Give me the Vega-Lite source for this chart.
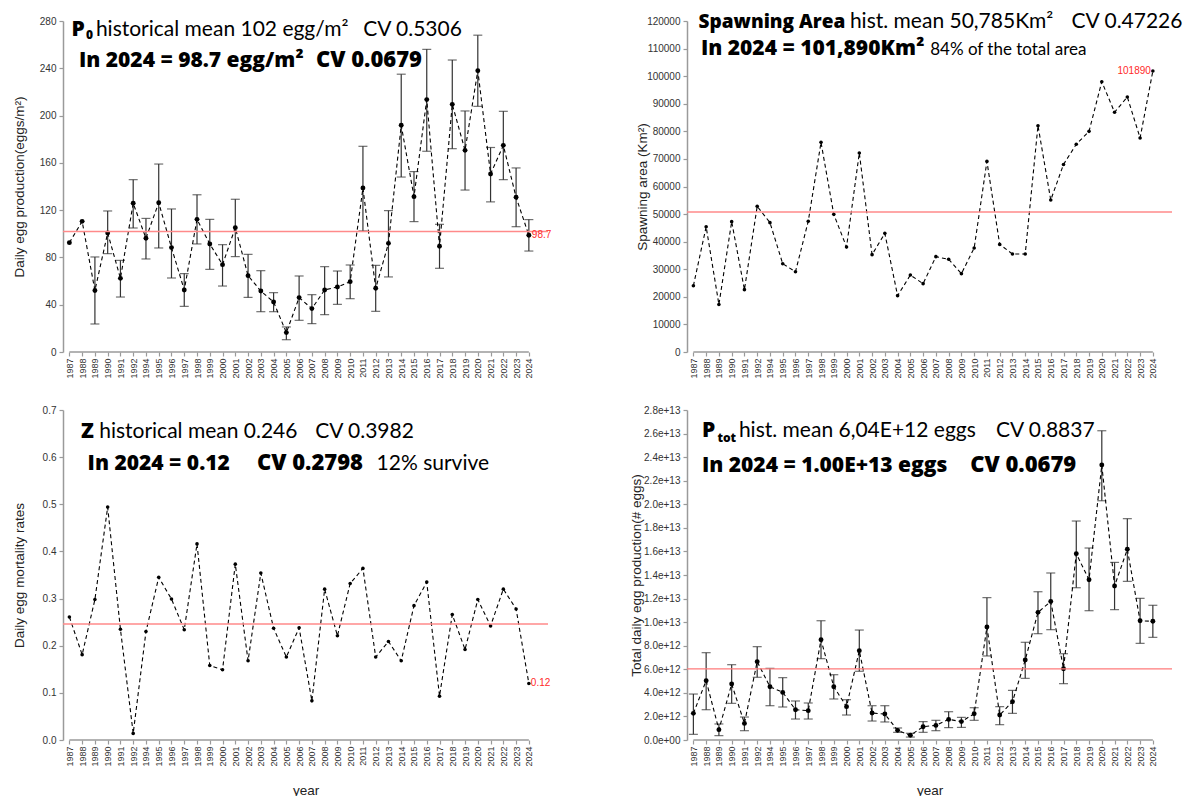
{
  "$schema": "https://vega.github.io/schema/vega-lite/v6.json",
  "padding": {"left": 12, "top": 10, "right": 5, "bottom": 5},
  "background": "white",
  "config": {
    "view": {"stroke": null},
    "font": "Lato",
    "axis": {"grid": false, "domainColor": "#9a9a9a", "tickColor": "#9a9a9a", "domainWidth": 1.5, "tickWidth": 1.2, "tickSize": 4, "labelFont": "Liberation Sans", "labelColor": "#333", "labelFontSize": 10, "titleFont": "Liberation Sans", "titleFontWeight": "normal", "titleColor": "#222", "titleFontSize": 13.5},
    "axisX": {"labelAngle": 270, "labelFontSize": 9, "domain": false, "labelPadding": 2, "labelOverlap": false, "labelFlush": false},
    "axisY": {"labelPadding": 3, "titleBaseline": "middle", "labelOverlap": false, "labelFlush": false}
  },
  "datasets": {
    "d": [
      {"year": 1987, "p0": 92.5, "p0lo": null, "p0hi": null, "area": 24000, "z": 0.261, "ptot": 2.26e12, "ptotlo": 0.48e12, "ptothi": 3.9e12},
      {"year": 1988, "p0": 110.5, "p0lo": null, "p0hi": null, "area": 45400, "z": 0.181, "ptot": 5.03e12, "ptotlo": 2.57e12, "ptothi": 7.41e12},
      {"year": 1989, "p0": 52, "p0lo": 23.7, "p0hi": 80.4, "area": 17200, "z": 0.298, "ptot": 0.88e12, "ptotlo": 0.37e12, "ptothi": 1.36e12},
      {"year": 1990, "p0": 100.7, "p0lo": 83.2, "p0hi": 119.3, "area": 47250, "z": 0.494, "ptot": 4.75e12, "ptotlo": 3.11e12, "ptothi": 6.39e12},
      {"year": 1991, "p0": 62.3, "p0lo": 46.5, "p0hi": 77.5, "area": 22600, "z": 0.235, "ptot": 1.41e12, "ptotlo": 0.79e12, "ptothi": 1.95e12},
      {"year": 1992, "p0": 125.8, "p0lo": 104.9, "p0hi": 145.8, "area": 52800, "z": 0.014, "ptot": 6.65e12, "ptotlo": 5.32e12, "ptothi": 7.92e12},
      {"year": 1994, "p0": 96.2, "p0lo": 78.7, "p0hi": 113, "area": 46900, "z": 0.23, "ptot": 4.52e12, "ptotlo": 2.91e12, "ptothi": 6.08e12},
      {"year": 1995, "p0": 126.3, "p0lo": 88, "p0hi": 159, "area": 32000, "z": 0.345, "ptot": 4.04e12, "ptotlo": 2.8e12, "ptothi": 5.29e12},
      {"year": 1996, "p0": 88.3, "p0lo": 62.6, "p0hi": 121, "area": 29100, "z": 0.299, "ptot": 2.57e12, "ptotlo": 1.78e12, "ptothi": 3.31e12},
      {"year": 1997, "p0": 52.5, "p0lo": 38.6, "p0hi": 66.3, "area": 47400, "z": 0.234, "ptot": 2.49e12, "ptotlo": 1.78e12, "ptothi": 3.14e12},
      {"year": 1998, "p0": 112.2, "p0lo": 91.4, "p0hi": 133, "area": 76000, "z": 0.416, "ptot": 8.51e12, "ptotlo": 6.9e12, "ptothi": 10.12e12},
      {"year": 1999, "p0": 91.4, "p0lo": 69.9, "p0hi": 112.2, "area": 49900, "z": 0.158, "ptot": 4.52e12, "ptotlo": 3.48e12, "ptothi": 5.54e12},
      {"year": 2000, "p0": 73.9, "p0lo": 55.8, "p0hi": 90.8, "area": 38070, "z": 0.149, "ptot": 2.83e12, "ptotlo": 2.12e12, "ptothi": 3.42e12},
      {"year": 2001, "p0": 105.2, "p0lo": 80.7, "p0hi": 129.2, "area": 72150, "z": 0.373, "ptot": 7.58e12, "ptotlo": 5.83e12, "ptothi": 9.33e12},
      {"year": 2002, "p0": 64.6, "p0lo": 46.2, "p0hi": 82.6, "area": 35290, "z": 0.168, "ptot": 2.29e12, "ptotlo": 1.61e12, "ptothi": 2.91e12},
      {"year": 2003, "p0": 51.6, "p0lo": 34.1, "p0hi": 68.8, "area": 43020, "z": 0.354, "ptot": 2.2e12, "ptotlo": 1.53e12, "ptothi": 2.91e12},
      {"year": 2004, "p0": 42.3, "p0lo": 34.1, "p0hi": 50.2, "area": 20420, "z": 0.237, "ptot": 0.82e12, "ptotlo": 0.65e12, "ptothi": 1.02e12},
      {"year": 2005, "p0": 16.4, "p0lo": 10.4, "p0hi": 21.2, "area": 27900, "z": 0.176, "ptot": 0.4e12, "ptotlo": 0.25e12, "ptothi": 0.57e12},
      {"year": 2006, "p0": 46, "p0lo": 26.8, "p0hi": 64.3, "area": 24770, "z": 0.238, "ptot": 1.13e12, "ptotlo": 0.65e12, "ptothi": 1.56e12},
      {"year": 2007, "p0": 36.7, "p0lo": 24, "p0hi": 48.5, "area": 34560, "z": 0.083, "ptot": 1.24e12, "ptotlo": 0.79e12, "ptothi": 1.67e12},
      {"year": 2008, "p0": 52.5, "p0lo": 31.6, "p0hi": 72.2, "area": 33600, "z": 0.32, "ptot": 1.75e12, "ptotlo": 1.05e12, "ptothi": 2.4e12},
      {"year": 2009, "p0": 55, "p0lo": 40.3, "p0hi": 68.5, "area": 28400, "z": 0.221, "ptot": 1.56e12, "ptotlo": 1.07e12, "ptothi": 1.92e12},
      {"year": 2010, "p0": 59.5, "p0lo": 45.1, "p0hi": 73.6, "area": 37700, "z": 0.332, "ptot": 2.23e12, "ptotlo": 1.67e12, "ptothi": 2.74e12},
      {"year": 2011, "p0": 138.7, "p0lo": 102.4, "p0hi": 174, "area": 69100, "z": 0.364, "ptot": 9.59e12, "ptotlo": 7.13e12, "ptothi": 12.08e12},
      {"year": 2012, "p0": 53.9, "p0lo": 34.4, "p0hi": 73.3, "area": 39000, "z": 0.176, "ptot": 2.12e12, "ptotlo": 1.3e12, "ptothi": 2.83e12},
      {"year": 2013, "p0": 91.9, "p0lo": 63.5, "p0hi": 119.6, "area": 35530, "z": 0.209, "ptot": 3.25e12, "ptotlo": 2.26e12, "ptothi": 4.21e12},
      {"year": 2014, "p0": 191.8, "p0lo": 148, "p0hi": 235, "area": 35530, "z": 0.168, "ptot": 6.79e12, "ptotlo": 5.23e12, "ptothi": 8.29e12},
      {"year": 2015, "p0": 131.4, "p0lo": 110.3, "p0hi": 152.6, "area": 82050, "z": 0.285, "ptot": 10.83e12, "ptotlo": 9.02e12, "ptothi": 12.58e12},
      {"year": 2016, "p0": 213.5, "p0lo": 169.8, "p0hi": 256, "area": 55100, "z": 0.335, "ptot": 11.76e12, "ptotlo": 9.36e12, "ptothi": 14.17e12},
      {"year": 2017, "p0": 89.4, "p0lo": 70.8, "p0hi": 108, "area": 68000, "z": 0.093, "ptot": 6.05e12, "ptotlo": 4.78e12, "ptothi": 7.32e12},
      {"year": 2018, "p0": 209.5, "p0lo": 172, "p0hi": 247, "area": 75300, "z": 0.266, "ptot": 15.81e12, "ptotlo": 12.92e12, "ptothi": 18.58e12},
      {"year": 2019, "p0": 170.6, "p0lo": 137, "p0hi": 203.9, "area": 80000, "z": 0.192, "ptot": 13.6e12, "ptotlo": 10.97e12, "ptothi": 16.29e12},
      {"year": 2020, "p0": 238, "p0lo": 207.8, "p0hi": 268, "area": 98000, "z": 0.298, "ptot": 23.33e12, "ptotlo": 20.3e12, "ptothi": 26.24e12},
      {"year": 2021, "p0": 150.6, "p0lo": 127, "p0hi": 173, "area": 86900, "z": 0.242, "ptot": 13.07e12, "ptotlo": 11.06e12, "ptothi": 15.07e12},
      {"year": 2022, "p0": 174.8, "p0lo": 145.8, "p0hi": 203.6, "area": 92450, "z": 0.32, "ptot": 16.18e12, "ptotlo": 13.46e12, "ptothi": 18.78e12},
      {"year": 2023, "p0": 130.9, "p0lo": 106, "p0hi": 155.7, "area": 77600, "z": 0.278, "ptot": 10.12e12, "ptotlo": 8.2e12, "ptothi": 12.02e12},
      {"year": 2024, "p0": 98.7, "p0lo": 85.4, "p0hi": 112, "area": 101890, "z": 0.12, "ptot": 10.07e12, "ptotlo": 8.71e12, "ptothi": 11.43e12}
    ]
  },
  "columns": 2,
  "spacing": {"row": 58, "column": 139},
  "bounds": "flush",
  "align": "all",
  "concat": [
    {
      "width": 485, "height": 331,
      "data": {"name": "d"},
      "layer": [
        {"transform": [{"filter": "isValid(datum.p0lo)"}],
         "mark": {"type": "rule", "color": "#333", "strokeWidth": 1.2},
         "encoding": {
           "x": {"field": "year", "type": "ordinal", "scale": {"type": "point", "padding": 1.02, "align": 0.25}, "axis": {"title": null}},
           "y": {"field": "p0lo", "type": "quantitative", "scale": {"domain": [0, 280], "nice": false}, "axis": {"title": "Daily egg production(eggs/m²)", "values": [0, 40, 80, 120, 160, 200, 240, 280], "tickCount": 40, "titleX": -44}},
           "y2": {"field": "p0hi"}}},
        {"transform": [{"filter": "isValid(datum.p0lo)"}],
         "mark": {"type": "tick", "color": "#333", "thickness": 1.2, "size": 9, "orient": "horizontal"},
         "encoding": {"x": {"field": "year", "type": "ordinal"}, "y": {"field": "p0lo", "type": "quantitative"}}},
        {"transform": [{"filter": "isValid(datum.p0hi)"}],
         "mark": {"type": "tick", "color": "#333", "thickness": 1.2, "size": 9, "orient": "horizontal"},
         "encoding": {"x": {"field": "year", "type": "ordinal"}, "y": {"field": "p0hi", "type": "quantitative"}}},
        {"mark": {"type": "line", "color": "#000", "strokeWidth": 1.1, "strokeDash": [4, 3]},
         "encoding": {"x": {"field": "year", "type": "ordinal"}, "y": {"field": "p0", "type": "quantitative"}}},
        {"mark": {"type": "point", "filled": true, "color": "#000", "size": 24, "opacity": 1},
         "encoding": {"x": {"field": "year", "type": "ordinal"}, "y": {"field": "p0", "type": "quantitative"}}},
        {"data": {"values": [{}]}, "mark": {"type": "rule", "color": "#ff8a8a", "strokeWidth": 1.5}, "encoding": {"y": {"datum": 102, "type": "quantitative"}}},
        {"transform": [{"filter": "datum.year == 2024"}],
         "mark": {"type": "text", "align": "left", "baseline": "middle", "dx": 3, "color": "#ff2a2a", "font": "Liberation Sans", "fontSize": 10},
         "encoding": {"x": {"field": "year", "type": "ordinal"}, "y": {"field": "p0", "type": "quantitative"}, "text": {"field": "p0", "format": ".1f"}}},
        {"data": {"values": [{}]}, "mark": {"type": "rule", "color": "#9a9a9a", "strokeWidth": 1.5}, "encoding": {"x": {"datum": 1987, "type": "ordinal"}, "x2": {"datum": 2024}, "y": {"datum": 0, "type": "quantitative"}}},
        {"data": {"values": [{}]}, "mark": {"type": "text", "text": "P", "align": "left", "baseline": "alphabetic", "dx": 2.2, "font": "Open Sans", "fontSize": 21, "fontWeight": 800, "color": "#000"}, "encoding": {"x": {"datum": 1987, "type": "ordinal"}, "y": {"datum": 267.7, "type": "quantitative"}}},
        {"data": {"values": [{}]}, "mark": {"type": "text", "text": "0", "align": "left", "baseline": "alphabetic", "dx": 16.5, "font": "Open Sans", "fontSize": 12, "fontWeight": 800, "color": "#000"}, "encoding": {"x": {"datum": 1987, "type": "ordinal"}, "y": {"datum": 264.8, "type": "quantitative"}}},
        {"data": {"values": [{}]}, "mark": {"type": "text", "text": "historical mean 102 egg/m²", "align": "left", "baseline": "alphabetic", "dx": 26.5, "fontSize": 21, "fontWeight": 400, "color": "#000"}, "encoding": {"x": {"datum": 1987, "type": "ordinal"}, "y": {"datum": 267.7, "type": "quantitative"}}},
        {"data": {"values": [{}]}, "mark": {"type": "text", "text": "CV 0.5306", "align": "left", "baseline": "alphabetic", "dx": 293.8, "fontSize": 21, "fontWeight": 400, "color": "#000"}, "encoding": {"x": {"datum": 1987, "type": "ordinal"}, "y": {"datum": 267.7, "type": "quantitative"}}},
        {"data": {"values": [{}]}, "mark": {"type": "text", "text": "In 2024 = 98.7 egg/m²", "align": "left", "baseline": "alphabetic", "dx": 9.5, "font": "Open Sans", "fontSize": 21, "fontWeight": 800, "color": "#000"}, "encoding": {"x": {"datum": 1987, "type": "ordinal"}, "y": {"datum": 241.3, "type": "quantitative"}}},
        {"data": {"values": [{}]}, "mark": {"type": "text", "text": "CV 0.0679", "align": "left", "baseline": "alphabetic", "dx": 246.5, "font": "Open Sans", "fontSize": 22, "fontWeight": 800, "color": "#000"}, "encoding": {"x": {"datum": 1987, "type": "ordinal"}, "y": {"datum": 241.3, "type": "quantitative"}}}
      ]
    },
    {
      "width": 485, "height": 331,
      "data": {"name": "d"},
      "layer": [
        {"mark": {"type": "line", "color": "#000", "strokeWidth": 1.1, "strokeDash": [4, 3]},
         "encoding": {
           "x": {"field": "year", "type": "ordinal", "scale": {"type": "point", "padding": 1.02, "align": 0.25}, "axis": {"title": null}},
           "y": {"field": "area", "type": "quantitative", "scale": {"domain": [0, 120000], "nice": false}, "axis": {"title": "Spawning area (Km²)", "values": [0, 10000, 20000, 30000, 40000, 50000, 60000, 70000, 80000, 90000, 100000, 110000, 120000], "tickCount": 40, "format": "d", "titleX": -45}}}},
        {"mark": {"type": "point", "filled": true, "color": "#000", "size": 13, "opacity": 1},
         "encoding": {"x": {"field": "year", "type": "ordinal"}, "y": {"field": "area", "type": "quantitative"}}},
        {"data": {"values": [{}]}, "mark": {"type": "rule", "color": "#ff8a8a", "strokeWidth": 1.5}, "encoding": {"y": {"datum": 50785, "type": "quantitative"}}},
        {"transform": [{"filter": "datum.year == 2024"}],
         "mark": {"type": "text", "align": "right", "baseline": "middle", "dx": -2, "color": "#ff2a2a", "font": "Liberation Sans", "fontSize": 10},
         "encoding": {"x": {"field": "year", "type": "ordinal"}, "y": {"field": "area", "type": "quantitative"}, "text": {"field": "area", "format": "d"}}},
        {"data": {"values": [{}]}, "mark": {"type": "rule", "color": "#9a9a9a", "strokeWidth": 1.5}, "encoding": {"x": {"datum": 1987, "type": "ordinal"}, "x2": {"datum": 2024}, "y": {"datum": 0, "type": "quantitative"}}},
        {"data": {"values": [{}]}, "mark": {"type": "text", "text": "Spawning Area", "align": "left", "baseline": "alphabetic", "dx": 5.2, "font": "Open Sans", "fontSize": 19, "fontWeight": 800, "color": "#000"}, "encoding": {"x": {"datum": 1987, "type": "ordinal"}, "y": {"datum": 117570, "type": "quantitative"}}},
        {"data": {"values": [{}]}, "mark": {"type": "text", "text": "hist. mean 50,785Km²", "align": "left", "baseline": "alphabetic", "dx": 156.5, "fontSize": 21, "fontWeight": 400, "color": "#000"}, "encoding": {"x": {"datum": 1987, "type": "ordinal"}, "y": {"datum": 117570, "type": "quantitative"}}},
        {"data": {"values": [{}]}, "mark": {"type": "text", "text": "CV 0.47226", "align": "left", "baseline": "alphabetic", "dx": 378.2, "fontSize": 21, "fontWeight": 400, "color": "#000"}, "encoding": {"x": {"datum": 1987, "type": "ordinal"}, "y": {"datum": 117570, "type": "quantitative"}}},
        {"data": {"values": [{}]}, "mark": {"type": "text", "text": "In 2024 = 101,890Km²", "align": "left", "baseline": "alphabetic", "dx": 7.5, "font": "Open Sans", "fontSize": 21, "fontWeight": 800, "color": "#000"}, "encoding": {"x": {"datum": 1987, "type": "ordinal"}, "y": {"datum": 107564, "type": "quantitative"}}},
        {"data": {"values": [{}]}, "mark": {"type": "text", "text": "84% of the total area", "align": "left", "baseline": "alphabetic", "dx": 236.8, "fontSize": 17, "fontWeight": 400, "color": "#000"}, "encoding": {"x": {"datum": 1987, "type": "ordinal"}, "y": {"datum": 107564, "type": "quantitative"}}}
      ]
    },
    {
      "width": 485, "height": 330,
      "data": {"name": "d"},
      "layer": [
        {"mark": {"type": "line", "color": "#000", "strokeWidth": 1.1, "strokeDash": [4, 3]},
         "encoding": {
           "x": {"field": "year", "type": "ordinal", "scale": {"type": "point", "padding": 1.02, "align": 0.25}, "axis": {"title": "year", "titleY": 50, "titleBaseline": "middle"}},
           "y": {"field": "z", "type": "quantitative", "scale": {"domain": [0, 0.7], "nice": false}, "axis": {"title": "Daily egg mortality rates", "values": [0, 0.1, 0.2, 0.3, 0.4, 0.5, 0.6, 0.7], "tickCount": 40, "format": ".1f", "titleX": -44}}}},
        {"mark": {"type": "point", "filled": true, "color": "#000", "size": 13, "opacity": 1},
         "encoding": {"x": {"field": "year", "type": "ordinal"}, "y": {"field": "z", "type": "quantitative"}}},
        {"data": {"values": [{}]}, "mark": {"type": "rule", "color": "#ff8a8a", "strokeWidth": 1.5}, "encoding": {"y": {"datum": 0.246, "type": "quantitative"}}},
        {"transform": [{"filter": "datum.year == 2024"}],
         "mark": {"type": "text", "align": "left", "baseline": "middle", "dx": 2, "color": "#ff2a2a", "font": "Liberation Sans", "fontSize": 10},
         "encoding": {"x": {"field": "year", "type": "ordinal"}, "y": {"field": "z", "type": "quantitative"}, "text": {"field": "z", "format": ".2f"}}},
        {"data": {"values": [{}]}, "mark": {"type": "rule", "color": "#9a9a9a", "strokeWidth": 1.5}, "encoding": {"x": {"datum": 1987, "type": "ordinal"}, "x2": {"datum": 2024}, "y": {"datum": 0, "type": "quantitative"}}},
        {"data": {"values": [{}]}, "mark": {"type": "text", "text": "Z", "align": "left", "baseline": "alphabetic", "dx": 11.5, "font": "Open Sans", "fontSize": 21, "fontWeight": 800, "color": "#000"}, "encoding": {"x": {"datum": 1987, "type": "ordinal"}, "y": {"datum": 0.6406, "type": "quantitative"}}},
        {"data": {"values": [{}]}, "mark": {"type": "text", "text": "historical mean 0.246", "align": "left", "baseline": "alphabetic", "dx": 29.8, "fontSize": 21, "fontWeight": 400, "color": "#000"}, "encoding": {"x": {"datum": 1987, "type": "ordinal"}, "y": {"datum": 0.6406, "type": "quantitative"}}},
        {"data": {"values": [{}]}, "mark": {"type": "text", "text": "CV 0.3982", "align": "left", "baseline": "alphabetic", "dx": 245.8, "fontSize": 21, "fontWeight": 400, "color": "#000"}, "encoding": {"x": {"datum": 1987, "type": "ordinal"}, "y": {"datum": 0.6406, "type": "quantitative"}}},
        {"data": {"values": [{}]}, "mark": {"type": "text", "text": "In 2024 = 0.12", "align": "left", "baseline": "alphabetic", "dx": 18.2, "font": "Open Sans", "fontSize": 21, "fontWeight": 800, "color": "#000"}, "encoding": {"x": {"datum": 1987, "type": "ordinal"}, "y": {"datum": 0.5734, "type": "quantitative"}}},
        {"data": {"values": [{}]}, "mark": {"type": "text", "text": "CV 0.2798", "align": "left", "baseline": "alphabetic", "dx": 187.5, "font": "Open Sans", "fontSize": 22, "fontWeight": 800, "color": "#000"}, "encoding": {"x": {"datum": 1987, "type": "ordinal"}, "y": {"datum": 0.5734, "type": "quantitative"}}},
        {"data": {"values": [{}]}, "mark": {"type": "text", "text": "12% survive", "align": "left", "baseline": "alphabetic", "dx": 307.2, "fontSize": 21, "fontWeight": 400, "color": "#000"}, "encoding": {"x": {"datum": 1987, "type": "ordinal"}, "y": {"datum": 0.5734, "type": "quantitative"}}}
      ]
    },
    {
      "width": 485, "height": 330,
      "data": {"name": "d"},
      "layer": [
        {"mark": {"type": "rule", "color": "#333", "strokeWidth": 1.2},
         "encoding": {
           "x": {"field": "year", "type": "ordinal", "scale": {"type": "point", "padding": 1.02, "align": 0.25}, "axis": {"title": "year", "titleY": 50, "titleBaseline": "middle"}},
           "y": {"field": "ptotlo", "type": "quantitative", "scale": {"domain": [0, 2.8e13], "nice": false}, "axis": {"title": "Total daily egg production(# eggs)", "values": [0, 2e12, 4e12, 6e12, 8e12, 1e13, 1.2e13, 1.4e13, 1.6e13, 1.8e13, 2e13, 2.2e13, 2.4e13, 2.6e13, 2.8e13], "tickCount": 40, "labelExpr": "datum.value == 0 ? '0.0e+00' : format(datum.value, '.1e')", "titleX": -51}},
           "y2": {"field": "ptothi"}}},
        {"mark": {"type": "tick", "color": "#333", "thickness": 1.2, "size": 9, "orient": "horizontal"},
         "encoding": {"x": {"field": "year", "type": "ordinal"}, "y": {"field": "ptotlo", "type": "quantitative"}}},
        {"mark": {"type": "tick", "color": "#333", "thickness": 1.2, "size": 9, "orient": "horizontal"},
         "encoding": {"x": {"field": "year", "type": "ordinal"}, "y": {"field": "ptothi", "type": "quantitative"}}},
        {"mark": {"type": "line", "color": "#000", "strokeWidth": 1.1, "strokeDash": [4, 3]},
         "encoding": {"x": {"field": "year", "type": "ordinal"}, "y": {"field": "ptot", "type": "quantitative"}}},
        {"mark": {"type": "point", "filled": true, "color": "#000", "size": 24, "opacity": 1},
         "encoding": {"x": {"field": "year", "type": "ordinal"}, "y": {"field": "ptot", "type": "quantitative"}}},
        {"data": {"values": [{}]}, "mark": {"type": "rule", "color": "#ff7a7a", "strokeWidth": 1.3}, "encoding": {"y": {"datum": 6.04e12, "type": "quantitative"}}},
        {"data": {"values": [{}]}, "mark": {"type": "rule", "color": "#9a9a9a", "strokeWidth": 1.5}, "encoding": {"x": {"datum": 1987, "type": "ordinal"}, "x2": {"datum": 2024}, "y": {"datum": 0, "type": "quantitative"}}},
        {"data": {"values": [{}]}, "mark": {"type": "text", "text": "P", "align": "left", "baseline": "alphabetic", "dx": 8.5, "font": "Open Sans", "fontSize": 21, "fontWeight": 800, "color": "#000"}, "encoding": {"x": {"datum": 1987, "type": "ordinal"}, "y": {"datum": 2.568e13, "type": "quantitative"}}},
        {"data": {"values": [{}]}, "mark": {"type": "text", "text": "tot", "align": "left", "baseline": "alphabetic", "dx": 24, "font": "Open Sans", "fontSize": 12, "fontWeight": 800, "color": "#000"}, "encoding": {"x": {"datum": 1987, "type": "ordinal"}, "y": {"datum": 2.532e13, "type": "quantitative"}}},
        {"data": {"values": [{}]}, "mark": {"type": "text", "text": "hist. mean 6,04E+12 eggs", "align": "left", "baseline": "alphabetic", "dx": 45.5, "fontSize": 21, "fontWeight": 400, "color": "#000"}, "encoding": {"x": {"datum": 1987, "type": "ordinal"}, "y": {"datum": 2.568e13, "type": "quantitative"}}},
        {"data": {"values": [{}]}, "mark": {"type": "text", "text": "CV 0.8837", "align": "left", "baseline": "alphabetic", "dx": 302.5, "fontSize": 21, "fontWeight": 400, "color": "#000"}, "encoding": {"x": {"datum": 1987, "type": "ordinal"}, "y": {"datum": 2.568e13, "type": "quantitative"}}},
        {"data": {"values": [{}]}, "mark": {"type": "text", "text": "In 2024 = 1.00E+13 eggs", "align": "left", "baseline": "alphabetic", "dx": 8.5, "font": "Open Sans", "fontSize": 21, "fontWeight": 800, "color": "#000"}, "encoding": {"x": {"datum": 1987, "type": "ordinal"}, "y": {"datum": 2.277e13, "type": "quantitative"}}},
        {"data": {"values": [{}]}, "mark": {"type": "text", "text": "CV 0.0679", "align": "left", "baseline": "alphabetic", "dx": 276.8, "font": "Open Sans", "fontSize": 22, "fontWeight": 800, "color": "#000"}, "encoding": {"x": {"datum": 1987, "type": "ordinal"}, "y": {"datum": 2.277e13, "type": "quantitative"}}}
      ]
    }
  ]
}
